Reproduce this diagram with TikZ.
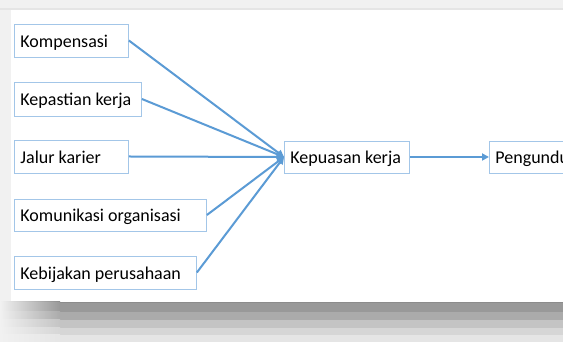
\documentclass[tikz,border=0pt]{standalone}
\usepackage{fontspec}
\setmainfont{Carlito}
\usetikzlibrary{arrows.meta}
\definecolor{linec}{HTML}{5B9BD5}
\definecolor{boxc}{HTML}{A3C6E8}
\definecolor{bgc}{HTML}{F1F1F1}
\begin{document}
\begin{tikzpicture}[x=1pt,y=1pt,
  bx/.style={draw=boxc, line width=0.9pt, fill=white, minimum height=33pt,
    inner xsep=6pt, inner ysep=0pt, anchor=west, align=flush left,
    text height=15pt, text depth=1.6pt,
    font=\fontsize{18}{20}\selectfont},
  arr/.style={draw=linec, line width=2pt, -{Triangle[length=7pt,width=7pt]}}]
\clip (0,0) rectangle (563,342);
% background and panel
\fill[bgc] (0,0) rectangle (563,342);
\fill[white!90!black] (0,332) rectangle (563,334);
\fill[white] (11,40) rectangle (563,332);
% shadow bands below the panel
\foreach \ya/\yb/\c in {39/40/55, 30/39/60, 22/30/67, 14/22/77, 7/14/84, 0/7/90}{
  \fill[white!\c!black] (60,\ya) rectangle (563,\yb);
  \shade[left color=bgc, right color=white!\c!black] (0,\ya) rectangle (60,\yb);
}
% boxes
\node[bx, text width=102pt] (k1) at (14,301.5) {Kompensasi};
\node[bx, text width=115pt, minimum height=34pt] (k2) at (14,243) {Kepastian kerja};
\node[bx, text width=102pt] (k3) at (14,185.5) {Jalur karier};
\node[bx, text width=180pt, minimum height=32pt] (k4) at (14,127) {Komunikasi organisasi};
\node[bx, text width=170pt] (k5) at (14,69.5) {Kebijakan perusahaan};
\node[bx, text width=113pt, minimum height=32pt] (kp) at (284,185) {Kepuasan kerja};
\node[bx, text width=140pt, minimum height=32pt] (pd) at (489,185) {Pengunduran diri};
% connectors
\foreach \n in {k1,k2,k3,k4,k5}{
  \draw[arr] (\n.east) -- (kp.west);
}
\draw[arr] (kp.east) -- (pd.west);
\end{tikzpicture}
\end{document}
